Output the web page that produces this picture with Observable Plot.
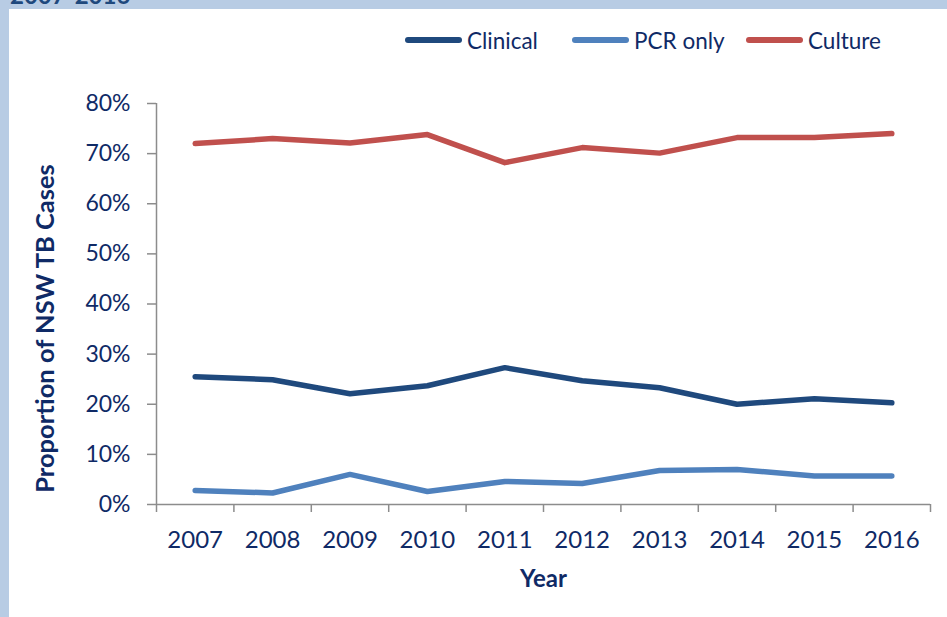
<!DOCTYPE html>
<html>
<head>
<meta charset="utf-8">
<script src="https://cdn.jsdelivr.net/npm/d3@7"></script>
<script src="https://cdn.jsdelivr.net/npm/@observablehq/plot@0.6"></script>
<style>
  html, body { margin: 0; padding: 0; }
  body { width: 947px; height: 617px; background: #B8CCE4; position: relative; overflow: hidden; font-family: Lato, "Open Sans", sans-serif; }
  #top { position: absolute; left: 10px; top: -17px; font: bold 24px Lato, sans-serif; color: #1F497D; line-height: 24px; }
  #panel { position: absolute; left: 9px; top: 9px; width: 938px; height: 608px; background: #fff; }
  #legend { position: absolute; top: 16px; left: 0; width: 938px; height: 30px; }
  .item { position: absolute; height: 30px; display: flex; align-items: center; font: 22.5px Lato, sans-serif; color: #0F2A66; }
  .sw { width: 57px; height: 5.5px; border-radius: 3px; margin-right: 5px; }
  #chart { position: absolute; left: 0; top: 0; }
</style>
</head>
<body>
<div id="top">2007-2016</div>
<div id="panel">
  <div id="chart"></div>
  <div id="legend"></div>
</div>
<script>
const years = [2007, 2008, 2009, 2010, 2011, 2012, 2013, 2014, 2015, 2016];
const clinical = [25.5, 24.9, 22.1, 23.7, 27.3, 24.7, 23.3, 20.0, 21.1, 20.3];
const pcrOnly  = [2.8, 2.3, 6.0, 2.6, 4.6, 4.2, 6.8, 7.0, 5.7, 5.7];
const culture  = [72.0, 73.0, 72.1, 73.8, 68.2, 71.2, 70.1, 73.2, 73.2, 74.0];
const seriesNames = ["Clinical", "PCR only", "Culture"];
const seriesColors = ["#1F497D", "#4F81BD", "#C0504D"];
const yTicks = [0, 10, 20, 30, 40, 50, 60, 70, 80];
const yLabel = "Proportion of NSW TB Cases";
const xLabel = "Year";

const seriesValues = [clinical, pcrOnly, culture];
const data = [];
seriesNames.forEach((s, i) => years.forEach((yr, j) => data.push({series: s, year: yr, value: seriesValues[i][j]})));

const boundaries = years.map(y => y - 0.5).concat([years[years.length - 1] + 0.5]);
const textColor = "#0F2A66";
const axisColor = "#8C8C8C";

const plot = Plot.plot({
  width: 938,
  height: 608,
  marginLeft: 147,
  marginRight: 17,
  marginTop: 94,
  marginBottom: 113,
  style: { fontFamily: "Lato, sans-serif", fontSize: "23px", color: textColor, background: "transparent" },
  x: { type: "linear", domain: [boundaries[0], boundaries[boundaries.length - 1]], axis: null },
  y: { domain: [0, 80], axis: null },
  color: { domain: seriesNames, range: seriesColors },
  marks: [
    Plot.ruleX([boundaries[0]], { stroke: axisColor, strokeWidth: 1.5 }),
    Plot.ruleY([0], { stroke: axisColor, strokeWidth: 1.5 }),
    Plot.axisY({ ticks: yTicks, tickSize: 9, tickPadding: 17, tickFormat: d => d + "%", stroke: axisColor, strokeWidth: 1.5, fill: textColor, label: null, fontSize: 23 }),
    Plot.axisX({ ticks: boundaries, tickSize: 8, tickFormat: () => "", stroke: axisColor, strokeWidth: 1.5, label: null }),
    Plot.axisX({ ticks: years, tickSize: 0, tickPadding: 26, tickFormat: d => String(d), fill: textColor, label: null, fontSize: 24 }),
    Plot.line(data, { x: "year", y: "value", z: "series", stroke: "series", strokeWidth: 5.5, strokeLinecap: "round", strokeLinejoin: "round" }),
    Plot.text([yLabel], { frameAnchor: "left", textAnchor: "middle", lineAnchor: "middle", rotate: -90, dx: -111, dy: 24.5, fontWeight: "bold", fontSize: 25.5, fill: textColor }),
    Plot.text([xLabel], { frameAnchor: "bottom", textAnchor: "middle", lineAnchor: "middle", dy: 75, fontWeight: "bold", fontSize: 24, fill: textColor })
  ]
});
document.getElementById("chart").appendChild(plot);

const legendX = [396, 563, 737];
const legend = document.getElementById("legend");
seriesNames.forEach((s, i) => {
  const it = document.createElement("div");
  it.className = "item";
  it.style.left = legendX[i] + "px";
  it.innerHTML = `<span class="sw" style="background:${seriesColors[i]}"></span><span>${s}</span>`;
  legend.appendChild(it);
});
</script>
</body>
</html>
